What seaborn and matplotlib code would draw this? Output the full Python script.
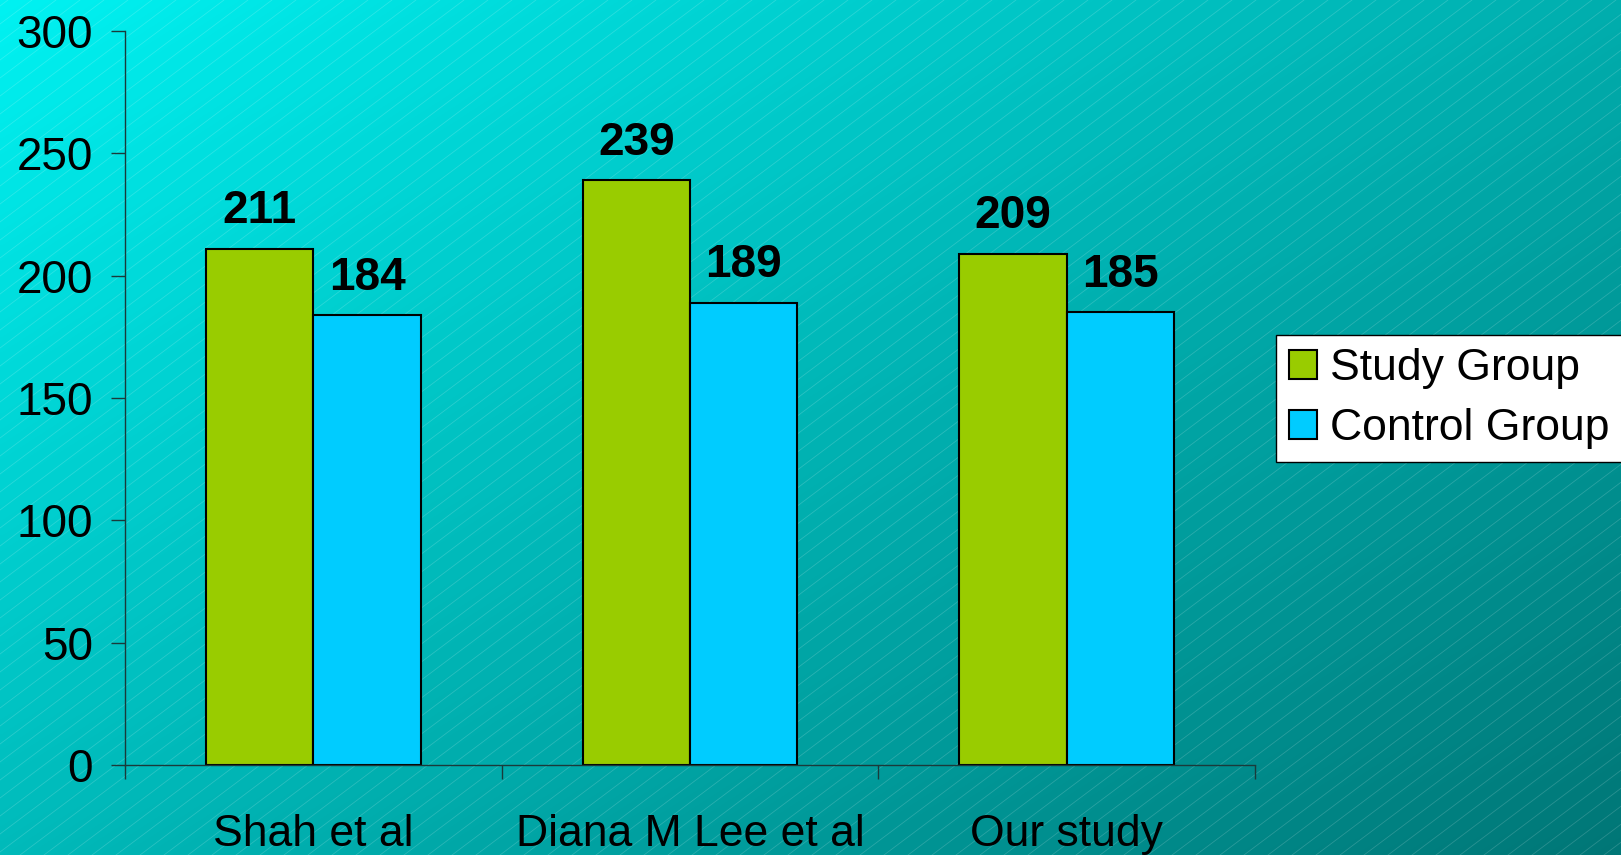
import numpy as np
import pandas as pd
import matplotlib
matplotlib.use('Agg')
import matplotlib.pyplot as plt
import seaborn as sns

# 데이터
studies = ['Shah et al', 'Diana M Lee et al', 'Our study']
study_group = [211, 239, 209]
control_group = [184, 189, 185]
groups = ['Study Group', 'Control Group']
yticks = [0, 50, 100, 150, 200, 250, 300]

df = pd.DataFrame({
    'study': studies * 2,
    'value': study_group + control_group,
    'group': [groups[0]] * 3 + [groups[1]] * 3,
})

sns.set_style('white')
plt.rcParams['font.family'] = ['Liberation Sans', 'DejaVu Sans']
plt.rcParams['text.color'] = 'black'
plt.rcParams['xtick.color'] = 'black'
plt.rcParams['ytick.color'] = 'black'

fig = plt.figure(figsize=(16.21, 8.55), dpi=100)

# 배경 그라데이션 + 사선 무늬
bg = fig.add_axes([0, 0, 1, 1], zorder=-10)
W, H = 1621, 855
xx, yy = np.meshgrid(np.linspace(0, 1, 400), np.linspace(0, 1, 220))
t = np.clip(0.55 * xx + 0.45 * yy, 0, 1)
top = np.array([0, 242, 242]) / 255
bot = np.array([0, 118, 118]) / 255
img = top[None, None, :] * (1 - t[..., None]) + bot[None, None, :] * t[..., None]
bg.imshow(img, extent=[0, W, H, 0], aspect='auto', interpolation='bilinear')
for c in np.arange(-1300, W + 60, 24):
    bg.plot([c, c + H / 0.75], [H, 0], color='white', alpha=0.17, lw=0.6)
bg.set_xlim(0, W)
bg.set_ylim(H, 0)
bg.axis('off')

ax = fig.add_axes([125 / W, 1 - 765 / H, (1255 - 125) / W, (765 - 31) / H])
ax.set_facecolor('none')

sns.barplot(data=df, x='study', y='value', hue='group', order=studies, hue_order=groups,
            palette=['#99CC00', '#00CCFF'], edgecolor='black', linewidth=1.5,
            width=0.57, saturation=1, ax=ax, legend=False)

for cont in ax.containers:
    for p in cont:
        ax.annotate(f'{int(p.get_height())}', (p.get_x() + p.get_width() / 2, p.get_height()),
                    xytext=(0, 11), textcoords='offset points', ha='center', va='bottom',
                    fontsize=33, fontweight='bold', color='black')

ax.set_xlim(-0.5, 2.5)
ax.set_ylim(0, 300)
ax.set_yticks(yticks)
ax.set_xticks([-0.5, 0.5, 1.5, 2.5])
ax.set_xticklabels([])
ax.set_xticks([0, 1, 2], minor=True)
ax.set_xticklabels(studies, minor=True)
ax.tick_params(axis='x', which='major', bottom=True, direction='out', length=10, width=1,
               color='#1a3a3a')
ax.tick_params(axis='x', which='minor', bottom=True, length=0, pad=35, labelsize=32,
               labelcolor='black')
ax.tick_params(axis='y', left=True, direction='out', length=10, width=1, color='#1a3a3a',
               labelsize=33, pad=13, labelcolor='black')
for s in ['top', 'right']:
    ax.spines[s].set_visible(False)
for s in ['left', 'bottom']:
    ax.spines[s].set_color('#1a3a3a')
    ax.spines[s].set_linewidth(1)
ax.set_xlabel('')
ax.set_ylabel('')

handles = [plt.Rectangle((0, 0), 1, 1, facecolor=c, edgecolor='black', linewidth=1.5)
           for c in ['#99CC00', '#00CCFF']]
leg = ax.legend(handles, groups, loc='upper left', bbox_to_anchor=(1276 / W, 1 - 335 / H),
                bbox_transform=fig.transFigure, fontsize=32, frameon=True, fancybox=False,
                handlelength=0.62, handleheight=0.62, handletextpad=0.3, borderpad=0.3,
                labelspacing=0.42, borderaxespad=0)
leg.get_frame().set_edgecolor('black')
leg.get_frame().set_facecolor('white')
leg.get_frame().set_alpha(1)
leg.get_frame().set_linewidth(1)

fig.savefig('out.png', dpi=100)
